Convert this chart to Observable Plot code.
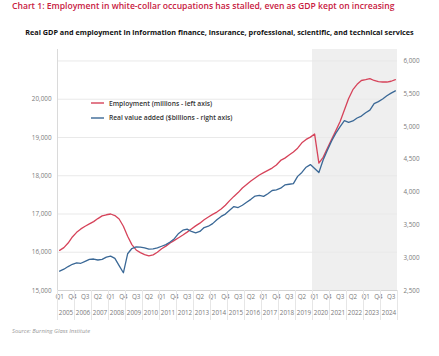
<!DOCTYPE html>
<html><head><meta charset="utf-8">
<script src="https://cdn.jsdelivr.net/npm/d3@7"></script>
<script src="https://cdn.jsdelivr.net/npm/@observablehq/plot@0.6"></script>
<style>
body{margin:0;background:#fff;}
#wrap{position:relative;width:439px;height:356px;overflow:hidden;font-family:"Open Sans",sans-serif;}
#chart{position:absolute;left:0;top:0;}
#title{position:absolute;left:12px;top:0px;font-size:8.6px;font-weight:600;color:#c8203f;white-space:nowrap;}
#subtitle{position:absolute;left:0;width:439px;text-align:center;top:27px;font-size:7.25px;font-weight:700;color:#111;white-space:nowrap;}
#legend{position:absolute;left:91px;top:96px;font-size:6.7px;color:#333;font-weight:600;}
.item{display:flex;align-items:center;height:14.6px;white-space:nowrap;}
.item svg{margin-right:5px;}
#caption{position:absolute;left:12px;top:327px;font-size:5.8px;font-style:italic;color:#999;}
</style></head><body>
<div id="wrap">
<div id="chart"></div>
<div id="title">Chart 1: Employment in white-collar occupations has stalled, even as GDP kept on increasing</div>
<div id="subtitle">Real GDP and employment in information finance, insurance, professional, scientific, and technical services</div>
<div id="legend"></div>
<div id="caption">Source: Burning Glass Institute</div>
</div>
<script>
// Categories
const years = [2005,2006,2007,2008,2009,2010,2011,2012,2013,2014,2015,2016,2017,2018,2019,2020,2021,2022,2023,2024];
const quarterNames = ["Q1","Q2","Q3","Q4"];
// Employment (left axis), quarterly 2005 Q1 .. 2024 Q4
const employment = [
 16050,16120,16240,16400, 16520,16610,16680,16740, 16800,16880,16950,16980,
 17000,16960,16870,16680, 16420,16200,16060,15990, 15940,15905,15930,16000,
 16090,16160,16240,16310, 16380,16450,16526,16610, 16690,16760,16850,16920,
 16990,17050,17130,17230, 17350,17460,17560,17680, 17770,17860,17940,18020,
 18080,18140,18200,18280, 18400,18460,18540,18620, 18720,18860,18950,19010,
 19090,18330,18480,18720, 18950,19180,19420,19720, 20020,20250,20390,20490,
 20510,20540,20490,20460, 20450,20450,20470,20510
];
// Real value added, $billions (right axis)
const gdp = [
 2795,2825,2865,2900, 2920,2915,2945,2975, 2980,2965,2975,3010,
 3025,2990,2880,2770, 3060,3140,3165,3160, 3150,3130,3135,3150,
 3175,3200,3240,3290, 3370,3420,3435,3400, 3380,3400,3460,3480,
 3520,3580,3630,3665, 3725,3780,3765,3800, 3845,3890,3940,3950,
 3935,3975,4025,4035, 4060,4110,4120,4130, 4240,4300,4380,4420,
 4360,4300,4490,4640, 4780,4900,5000,5090, 5065,5085,5130,5160,
 5210,5250,5350,5380, 5420,5470,5510,5545
];
const leftTicks = [15000,16000,17000,18000,19000,20000];
const gridTicks = [16000,17000,18000,19000,20000,21000];
const rightTicks = [2500,3000,3500,4000,4500,5000,5500,6000];
const shadedFromYear = 2020;
const seriesNames = ["Employment (millions - left axis)","Real value added ($billions - right axis)"];
const colors = ["#d6435a","#3a6896"];

const data = employment.map((e,i)=>({i, emp:e, gdp:gdp[i]}));
const toE = g => 15000 + (g-2500)*6000/3500;
const fromE = e => 2500 + (e-15000)*3500/6000;
const fmt = d3.format(",");
const nQ = years.length*4;
const shadeStart = years.indexOf(shadedFromYear)*4;
const qTicks = d3.range(0,nQ,3);
const yearBounds = d3.range(0,nQ+1,4);

const axisStyle = {fontSize:6.3, fill:"#7a7a7a", label:null};
const chart = Plot.plot({
  width:439, height:356,
  marginTop:49, marginBottom:66, marginLeft:57, marginRight:42,
  x:{type:"linear", domain:[0,nQ], axis:null, label:null},
  y:{domain:[15000,21300], axis:null, label:null},
  style:{fontFamily:"'Open Sans', sans-serif", background:"transparent"},
  marks:[
    Plot.rect([shadeStart], {x1:d=>d, x2:nQ, y1:15000, y2:21300, fill:"#efefef"}),
    Plot.ruleY(gridTicks, {stroke:"#e9e9e9", strokeWidth:1}),
    Plot.ruleX([0], {y1:15000, y2:21300, stroke:"#dadada"}),
    Plot.ruleY([15000], {stroke:"#d4d4d4"}),
    Plot.line(data, {x:d=>d.i+0.5, y:"emp", stroke:colors[0], strokeWidth:1.3}),
    Plot.line(data, {x:d=>d.i+0.5, y:d=>toE(d.gdp), stroke:colors[1], strokeWidth:1.3}),
    Plot.axisY(leftTicks, {anchor:"left", tickSize:0, tickPadding:6, tickFormat:fmt, ...axisStyle}),
    Plot.axisY(rightTicks.map(toE), {anchor:"right", tickSize:0, tickPadding:6, tickFormat:e=>fmt(Math.round(fromE(e))), ...axisStyle}),
    Plot.axisX(qTicks.map(i=>i+0.5), {anchor:"bottom", tickSize:0, tickPadding:4, tickFormat:v=>quarterNames[Math.round(v-0.5)%4], ...axisStyle}),
    Plot.axisX(years.map((y,k)=>4*k+2), {anchor:"bottom", tickSize:0, tickPadding:20, tickFormat:v=>String(years[Math.round((v-2)/4)]), ...axisStyle}),
    Plot.axisX(yearBounds, {anchor:"bottom", tickSize:30, tickFormat:()=>"", stroke:"#e6e6e6", label:null})
  ]
});
document.getElementById("chart").appendChild(chart);

const legend = document.getElementById("legend");
const NS = "http://www.w3.org/2000/svg";
seriesNames.forEach((n,k)=>{
  const it = document.createElement("div"); it.className="item";
  const sv = document.createElementNS(NS,"svg"); sv.setAttribute("width","13"); sv.setAttribute("height","4");
  const ln = document.createElementNS(NS,"line");
  ln.setAttribute("x1","0"); ln.setAttribute("x2","13"); ln.setAttribute("y1","2"); ln.setAttribute("y2","2");
  ln.setAttribute("stroke",colors[k]); ln.setAttribute("stroke-width","1.4");
  sv.appendChild(ln);
  const tx = document.createElement("span"); tx.textContent=n;
  it.appendChild(sv); it.appendChild(tx); legend.appendChild(it);
});
</script>
</body></html>
